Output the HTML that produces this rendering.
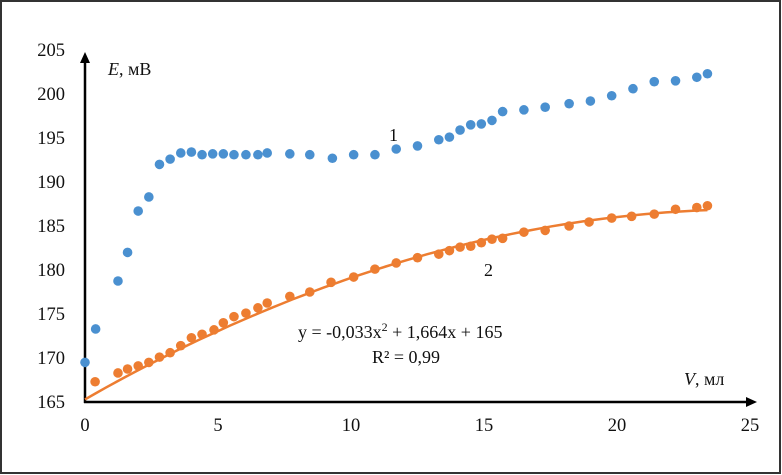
<!DOCTYPE html>
<html><head><meta charset="utf-8"><style>
html,body{margin:0;padding:0;background:#fff}
svg{display:block}
text{font-family:"Liberation Serif",serif;fill:#111}
</style></head><body>
<svg id="chart" width="782" height="475" viewBox="0 0 782 475">
<rect x="1" y="1" width="779" height="472" fill="#fff" stroke="#333" stroke-width="2"/>
<g id="grid"></g>
<g id="marks"></g>
</svg>
<script>
const xTicks=[0,5,10,15,20,25];
const yTicks=[165,170,175,180,185,190,195,200,205];
const s1x=[0,0.4,1.24,1.6,2.0,2.4,2.8,3.2,3.6,4.0,4.4,4.8,5.2,5.6,6.05,6.5,6.85,7.7,8.45,9.3,10.1,10.9,11.7,12.5,13.3,13.7,14.1,14.5,14.9,15.3,15.7,16.5,17.3,18.2,19.0,19.8,20.6,21.4,22.2,23.0,23.4];
const s1y=[169.5,173.3,178.75,182,186.7,188.3,192,192.6,193.3,193.4,193.1,193.2,193.2,193.1,193.1,193.1,193.3,193.2,193.1,192.7,193.1,193.1,193.75,194.1,194.8,195.1,195.9,196.5,196.6,197.0,198.0,198.2,198.5,198.9,199.2,199.8,200.6,201.4,201.5,201.9,202.3];
const s2x=[0.38,1.24,1.6,2.0,2.4,2.8,3.2,3.6,4.0,4.4,4.85,5.2,5.6,6.05,6.5,6.85,7.7,8.45,9.25,10.1,10.9,11.7,12.5,13.3,13.7,14.1,14.5,14.9,15.3,15.7,16.5,17.3,18.2,18.95,19.8,20.55,21.4,22.2,23.0,23.4];
const s2y=[167.3,168.3,168.75,169.1,169.5,170.1,170.6,171.4,172.3,172.7,173.2,174.0,174.7,175.1,175.7,176.25,177.0,177.5,178.6,179.2,180.1,180.8,181.4,181.8,182.2,182.6,182.7,183.1,183.5,183.6,184.3,184.5,185.0,185.45,185.9,186.1,186.35,186.9,187.1,187.3];
const trendCoef=[-0.0344,1.724,165.3];
const trendRange=[0,23.4];

const NS="http://www.w3.org/2000/svg";
const X=v=>85+v*26.6, Y=v=>402-(v-165)*8.8;
const svg=document.getElementById('chart');
function mk(t,a,p){const e=document.createElementNS(NS,t);for(const k in a)e.setAttribute(k,a[k]);(p||svg).appendChild(e);return e;}

xTicks.forEach(v=>{const t=mk('text',{x:X(v),y:431,'text-anchor':'middle','font-size':18.5});t.textContent=v;

});
yTicks.forEach(v=>{const t=mk('text',{x:65,y:Y(v)+6,'text-anchor':'end','font-size':18.5});t.textContent=v;

});

const ya=mk('line',{x1:85,y1:403,x2:85,y2:60,stroke:'#000','stroke-width':2.5});


const yh=mk('polygon',{points:'85,52 80,63 90,63',fill:'#000'});


const xa=mk('line',{x1:84,y1:402,x2:748,y2:402,stroke:'#000','stroke-width':2.5});


const xh=mk('polygon',{points:'757,402 746,397 746,407',fill:'#000'});



let d='';for(let i=0;i<=60;i++){const x=trendRange[0]+(trendRange[1]-trendRange[0])*i/60;const y=trendCoef[0]*x*x+trendCoef[1]*x+trendCoef[2];d+=(i?'L':'M')+X(x).toFixed(1)+','+Y(y).toFixed(1);}
const tl=mk('path',{d:d,fill:'none',stroke:'#ed7d31','stroke-width':2.5});



s1x.forEach((x,i)=>{const c=mk('circle',{cx:X(x),cy:Y(s1y[i]),r:4.8,fill:'#4a90d0'});

});
s2x.forEach((x,i)=>{const c=mk('circle',{cx:X(x),cy:Y(s2y[i]),r:4.8,fill:'#ed7d31'});

});

function txt(x,y,html,name,size){const t=mk('text',{x:x,y:y,'font-size':size||18});t.innerHTML=html;return t;}
txt(108,75,'<tspan font-style="italic">E</tspan>, мВ','y-axis-title');
txt(684,385,'<tspan font-style="italic">V</tspan>, мл','x-axis-title');
txt(389,141,'1','series-1-label');
txt(484,276,'2','series-2-label');
txt(298,338,'y = -0,033x<tspan font-size="12" dy="-7">2</tspan><tspan dy="7"> + 1,664x + 165</tspan>','trend-equation');
txt(372,363,'R² = 0,99','r-squared');
</script>
</body></html>
